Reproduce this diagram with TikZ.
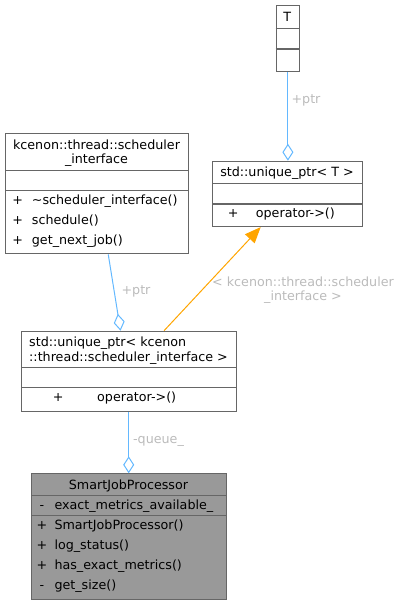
\documentclass[tikz,border=0pt]{standalone}
\usepackage{fontspec}
\setmainfont{DejaVu Sans}
\usetikzlibrary{arrows.meta}
\definecolor{edgeblue}{HTML}{63B8FF}
\definecolor{edgeorange}{HTML}{FFA500}
\definecolor{boxline}{HTML}{666666}
\definecolor{lblgrey}{HTML}{BBBBBB}
\definecolor{boxfill}{HTML}{999999}
\tikzset{
  umlbox/.style={draw=boxline, line width=1.1pt, fill=white, inner sep=0pt, anchor=north west},
  divider/.style={draw=boxline, line width=1.1pt},
  txt/.style={inner sep=0pt, font=\fontsize{12.7}{14}\selectfont},
  lbl/.style={inner sep=0pt, font=\fontsize{12.7}{14}\selectfont, text=lblgrey},
  aggr/.style={draw=edgeblue, line width=1pt, -{Diamond[open, length=17pt, width=11pt, line width=1pt]}},
  inherit/.style={draw=edgeorange, line width=1pt, -{Triangle[length=16pt, width=13pt]}},
}
\begin{document}
\begin{tikzpicture}[x=1pt, y=-1pt]
\useasboundingbox (0,0) rectangle (401,604);

% T
\node[umlbox, minimum width=23.3pt, minimum height=65.7pt] (tbox) at (275.7,5) {};
\draw[divider] (275.7,28.3) -- (299,28.3);
\draw[divider] (275.7,49) -- (299,49);
\node[txt, anchor=base] (tname) at (287.3,21.2) {T};

% std::unique_ptr< T >
\node[umlbox, minimum width=149.7pt, minimum height=65.3pt] (uptrt) at (212.3,160.7) {};
\draw[divider] (212.3,183.3) -- (362,183.3);
\draw[divider] (212.3,204) -- (362,204);
\node[txt, anchor=base] (uptrtname) at (287,176.5) {std::unique\_ptr< T >};
\node[txt, anchor=base] (uptrtplus) at (233.3,217.5) {+};
\node[txt, anchor=base west] (uptrtop) at (255.7,217.5) {operator->()};

% scheduler_interface
\node[umlbox, minimum width=183pt, minimum height=120pt] (sched) at (5,133.3) {};
\draw[divider] (5,170.7) -- (188,170.7);
\draw[divider] (5,190.7) -- (188,190.7);
\node[txt, anchor=base] (schedname1) at (96.5,149.5) {kcenon::thread::scheduler};
\node[txt, anchor=base] (schedname2) at (96.5,163.8) {\_interface};
\node[txt, anchor=base] (schedp1) at (17.7,204.5) {+};
\node[txt, anchor=base west] (schedm1) at (31.7,204.5) {\textasciitilde scheduler\_interface()};
\node[txt, anchor=base] (schedp2) at (17.7,224.5) {+};
\node[txt, anchor=base west] (schedm2) at (31.7,224.5) {schedule()};
\node[txt, anchor=base] (schedp3) at (17.7,244.5) {+};
\node[txt, anchor=base west] (schedm3) at (31.7,244.5) {get\_next\_job()};

% std::unique_ptr< kcenon::thread::scheduler_interface >
\node[umlbox, minimum width=215pt, minimum height=80pt] (uptrs) at (21,330.7) {};
\draw[divider] (21,367.7) -- (236,367.7);
\draw[divider] (21,387.7) -- (236,387.7);
\node[txt, anchor=base west] (uptrsname1) at (29,346.8) {std::unique\_ptr< kcenon};
\node[txt, anchor=base west] (uptrsname2) at (29,361.2) {::thread::scheduler\_interface >};
\node[txt, anchor=base] (uptrsplus) at (58.3,401.5) {+};
\node[txt, anchor=base west] (uptrsop) at (97,401.5) {operator->()};

% SmartJobProcessor
\node[umlbox, fill=boxfill, minimum width=195pt, minimum height=125.7pt] (sjp) at (31,473.3) {};
\draw[divider] (31,495.3) -- (226,495.3);
\draw[divider] (31,515.7) -- (226,515.7);
\node[txt, anchor=base] (sjpname) at (128.5,489.5) {SmartJobProcessor};
\node[txt, anchor=base] (sjpa1s) at (42,509.5) {-};
\node[txt, anchor=base west] (sjpa1) at (54.3,509.5) {exact\_metrics\_available\_};
\node[txt, anchor=base] (sjpm1s) at (42,529.5) {+};
\node[txt, anchor=base west] (sjpm1) at (54.3,529.5) {SmartJobProcessor()};
\node[txt, anchor=base] (sjpm2s) at (42,549.5) {+};
\node[txt, anchor=base west] (sjpm2) at (54.3,549.5) {log\_status()};
\node[txt, anchor=base] (sjpm3s) at (42,569.5) {+};
\node[txt, anchor=base west] (sjpm3) at (54.3,569.5) {has\_exact\_metrics()};
\node[txt, anchor=base] (sjpm4s) at (42,589.2) {-};
\node[txt, anchor=base west] (sjpm4) at (54.3,589.2) {get\_size()};

% connectors
\draw[aggr] (tbox.south) -- (tbox.south |- uptrt.north);
\node[lbl] (l1) at (306,100) {+ptr};

\draw[aggr] ([xshift=11.2pt]sched.south) -- ([xshift=-8.5pt]uptrs.north);
\node[lbl] (l2) at (136,291) {+ptr};

\draw[inherit] ([xshift=35pt]uptrs.north) -- ([xshift=-27pt]uptrt.south);
\node[lbl, align=center] (l3) at (303,290.5) {< kcenon::thread::scheduler\\\_interface >};

\draw[aggr] (uptrs.south -| 128.7,0) -- (sjp.north -| 128.7,0);
\node[lbl] (l4) at (158.5,441) {-queue\_};
\end{tikzpicture}
\end{document}
